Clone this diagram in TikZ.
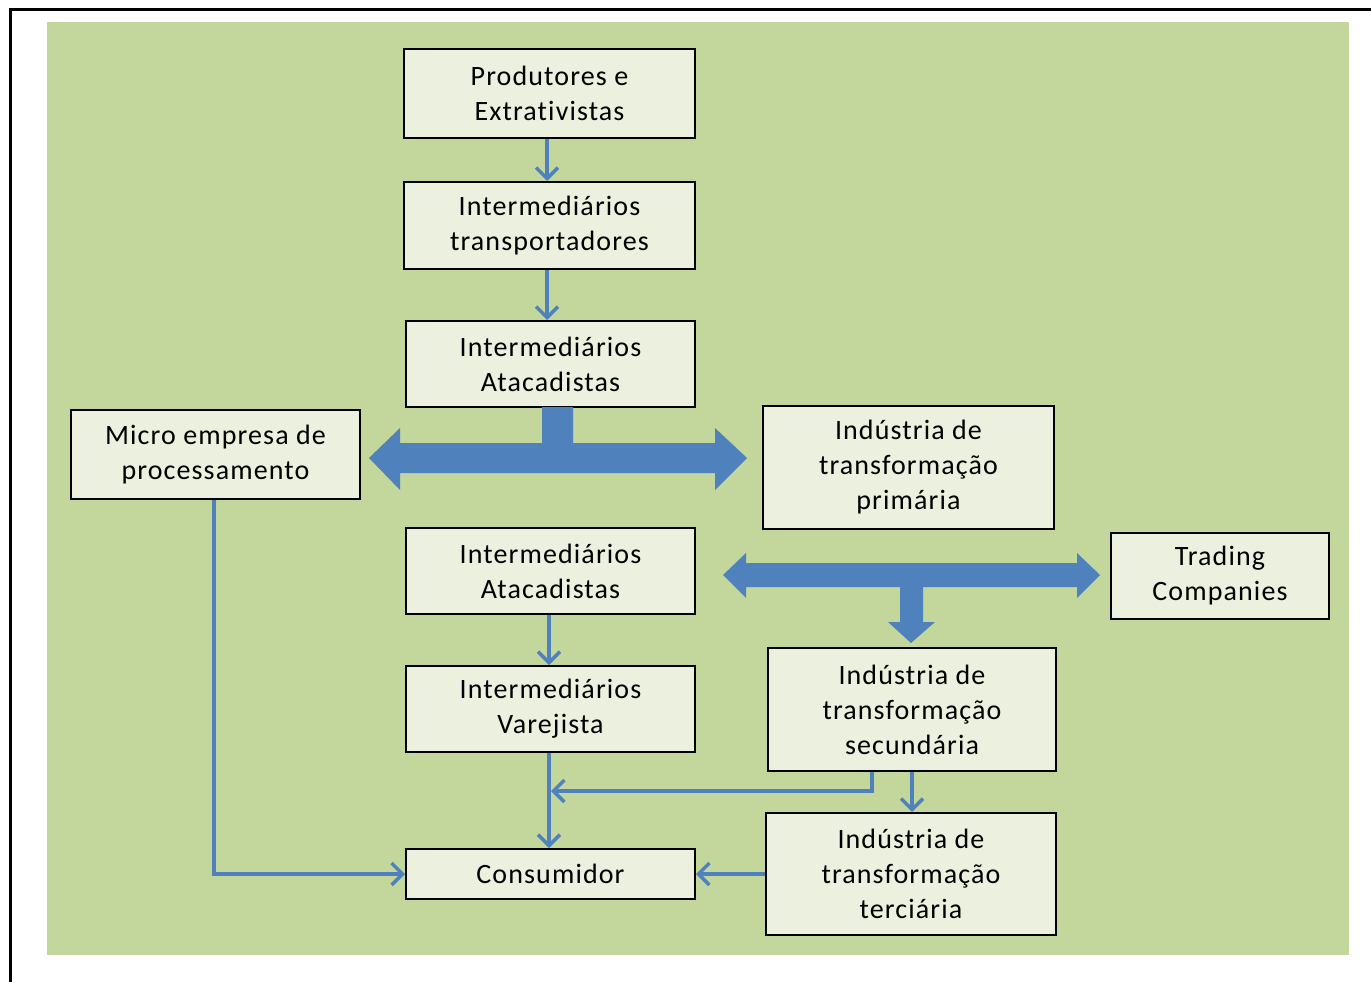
\documentclass[tikz,border=0pt]{standalone}
\usepackage{fontspec}
\setmainfont{Carlito}[LetterSpace=4,Ligatures=NoCommon]
\usetikzlibrary{arrows.meta}
\definecolor{bggreen}{HTML}{C3D69B}
\definecolor{boxfill}{HTML}{EBF1DE}
\definecolor{flowblue}{HTML}{4F81BD}
\tikzset{
  stagebox/.style={draw=black, line width=2pt, fill=boxfill, align=center,
    inner sep=0pt, font=\fontsize{28}{35}\selectfont},
  flow/.style={draw=flowblue, line width=3.5pt,
    -{Straight Barb[length=11pt,width=22pt,line width=3.5pt]}},
  fatarrow/.style={fill=flowblue, draw=none}
}
\begin{document}
\begin{tikzpicture}[x=1pt,y=-1pt]
\useasboundingbox (0,0) rectangle (1371,982);
% page frame and background panel
\draw[line width=3pt] (10,982) -- (10,9.5) -- (1371,9.5);
\fill[bggreen] (47,22) rectangle (1349,955);

% stages of the chain
\node[stagebox, minimum width=291pt, minimum height=89pt] (prod) at (549.5,93.5) {Produtores e\\Extrativistas};
\node[stagebox, minimum width=291pt, minimum height=87pt] (transp) at (549.5,225.5) {Intermediários\\transportadores};
\node[stagebox, minimum width=289pt, minimum height=86pt] (atac1) at (550.5,364) {Intermediários\\Atacadistas};
\node[stagebox, minimum width=289pt, minimum height=89pt] (micro) at (215.5,454.5) {Micro empresa de\\processamento};
\node[stagebox, minimum width=291pt, minimum height=123pt] (prim) at (908.5,467.5) {Indústria de\\transformação\\primária};
\node[stagebox, minimum width=289pt, minimum height=86pt] (atac2) at (550.5,571) {Intermediários\\Atacadistas};
\node[stagebox, minimum width=218pt, minimum height=86pt] (trading) at (1220,576) {Trading\\Companies};
\node[stagebox, minimum width=289pt, minimum height=86pt] (varej) at (550.5,709) {Intermediários\\Varejista};
\node[stagebox, minimum width=288pt, minimum height=123pt] (sec) at (912,709.5) {Indústria de\\transformação\\secundária};
\node[stagebox, minimum width=289pt, minimum height=50pt] (cons) at (550.5,874) {Consumidor};
\node[stagebox, minimum width=290pt, minimum height=122pt] (terc) at (911,874) {Indústria de\\transformação\\terciária};

% wide distribution arrows
\fill[fatarrow] (542,407) -- (573,407) -- (573,443) -- (715,443) -- (715,428)
  -- (747,458) -- (715,490) -- (715,473) -- (400,473) -- (400,490)
  -- (369,458) -- (400,428) -- (400,443) -- (542,443) -- cycle;
\fill[fatarrow] (723,575) -- (746,553) -- (746,563) -- (1077,563) -- (1077,553)
  -- (1100,575) -- (1077,598) -- (1077,587) -- (923,587) -- (923,622)
  -- (935,622) -- (911,643) -- (888,622) -- (900,622) -- (900,587)
  -- (746,587) -- (746,598) -- cycle;

% thin flow connectors
\draw[flow] (prod.south -| 547,0) -- (transp.north -| 547,0);
\draw[flow] (transp.south -| 547,0) -- (atac1.north -| 547,0);
\draw[flow] (atac2.south -| 549,0) -- (varej.north -| 549,0);
\draw[flow] (varej.south -| 549,0) -- (cons.north -| 549,0);
\coordinate (join) at (551,791);
\draw[flow] (sec.south -| 872,0) |- (join);
\draw[flow] (sec.south -| 912,0) -- (terc.north -| 912,0);
\draw[flow] (terc.west) -- (cons.east);
\draw[flow] (micro.south -| 214,0) |- (cons.west);
\end{tikzpicture}
\end{document}
